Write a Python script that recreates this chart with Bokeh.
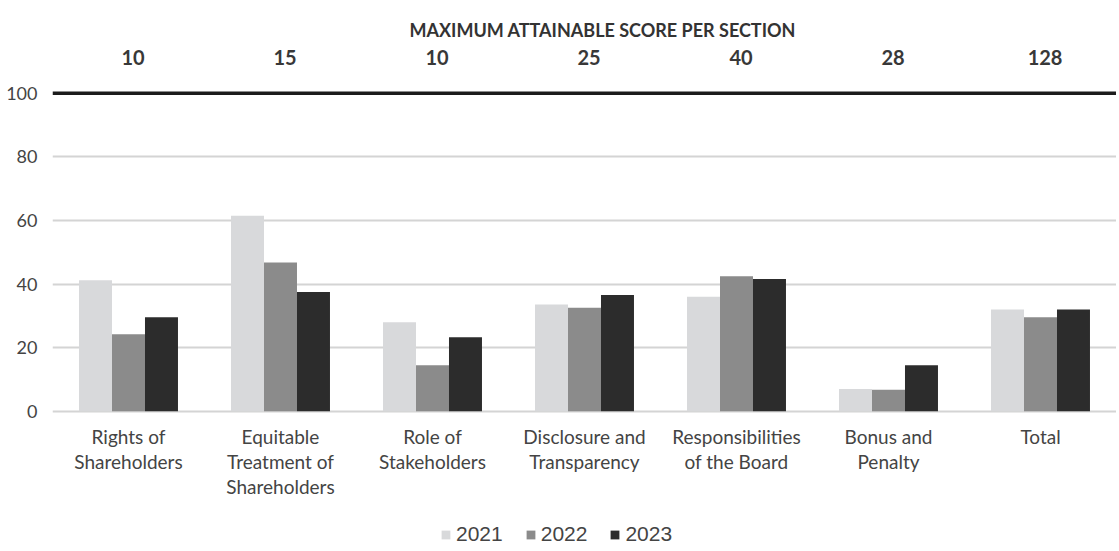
from bokeh.plotting import figure
from bokeh.models import (FactorRange, Range1d, FixedTicker, Span, Legend,
                          LegendItem, ColumnDataSource, Label)
from bokeh.transform import dodge
from bokeh.core.properties import value
from bokeh.embed import file_html
from bokeh.resources import INLINE

# ---- data ----
categories = ["Rights of\nShareholders", "Equitable\nTreatment of\nShareholders",
              "Role of\nStakeholders", "Disclosure and\nTransparency",
              "Responsibilities\nof the Board", "Bonus and\nPenalty", "Total"]
years = ["2021", "2022", "2023"]
score_2021 = [41.2, 61.5, 28.0, 33.6, 36.0, 7.0, 32.0]
score_2022 = [24.2, 46.8, 14.5, 32.6, 42.5, 6.8, 29.6]
score_2023 = [29.6, 37.5, 23.3, 36.6, 41.6, 14.5, 32.0]
max_score = [10, 15, 10, 25, 40, 28, 128]
y_ticks = [0, 20, 40, 60, 80, 100]
title_text = "MAXIMUM ATTAINABLE SCORE PER SECTION"

colors = ["#d8d9db", "#8b8b8b", "#2c2c2c"]

n = len(categories)
src = ColumnDataSource(dict(cat=categories, y2021=score_2021, y2022=score_2022,
                            y2023=score_2023,
                            maxs=[str(m) for m in max_score],
                            maxy=[111.2] * n,
                            laby=[-4.2] * n))

p = figure(x_range=FactorRange(factors=categories, range_padding=0),
           y_range=Range1d(-43.1, 124.1),
           frame_width=1064, frame_height=532,
           min_border_left=52, min_border_right=0, min_border_top=16,
           min_border_bottom=0,
           output_backend="svg", toolbar_location=None)

bw = 0.217
renderers = []
for i, (yr, col) in enumerate(zip(years, colors)):
    r = p.vbar(x=dodge("cat", (i - 1) * bw, range=p.x_range), top="y" + yr,
               width=bw, bottom=0, source=src, fill_color=col, line_color=None)
    renderers.append(r)

# category labels (drawn under the bars)
p.text(x="cat", y="laby", text="cat", source=src,
       text_align="center", text_baseline="top", text_line_height=1.1,
       text_font=value("Lato"), text_font_size="19px", text_color="#444444")

# max attainable score labels
p.text(x=dodge("cat", 0.03, range=p.x_range), y="maxy", text="maxs", source=src,
       text_align="center", text_baseline="middle",
       text_font=value("Lato"), text_font_style="bold",
       text_font_size="20px", text_color="#383838")

p.add_layout(Label(x=3.62, y=120.0, text=title_text, text_align="center",
                   text_baseline="middle", text_font="Lato",
                   text_font_style="bold", text_font_size="18px",
                   text_color="#333333"))

p.add_layout(Span(location=100, dimension="width", line_color="#1c1c1c",
                  line_width=3.5))

# axes
p.xaxis.visible = False
p.yaxis.ticker = FixedTicker(ticks=y_ticks)
p.ygrid.ticker = FixedTicker(ticks=y_ticks[:-1])
p.ygrid.grid_line_color = "#d4d4d4"
p.ygrid.grid_line_width = 2
p.xgrid.grid_line_color = None
p.outline_line_color = None

p.yaxis.axis_line_color = None
p.yaxis.major_tick_line_color = None
p.yaxis.minor_tick_line_color = None
p.yaxis.major_label_text_font = "Lato"
p.yaxis.major_label_text_color = "#444444"
p.yaxis.major_label_text_font_size = "18px"
p.yaxis.major_label_standoff = 9

legend = Legend(items=[LegendItem(label=yr, renderers=[r])
                       for yr, r in zip(years, renderers)],
                orientation="horizontal", location=(388, 2),
                glyph_width=11, glyph_height=11, label_standoff=5, spacing=22,
                label_text_font="Liberation Sans", label_text_font_size="21px",
                label_text_color="#444444", border_line_color=None,
                background_fill_alpha=0, margin=0, padding=3)
p.add_layout(legend)

open("out.html", "w").write(file_html(p, INLINE))
